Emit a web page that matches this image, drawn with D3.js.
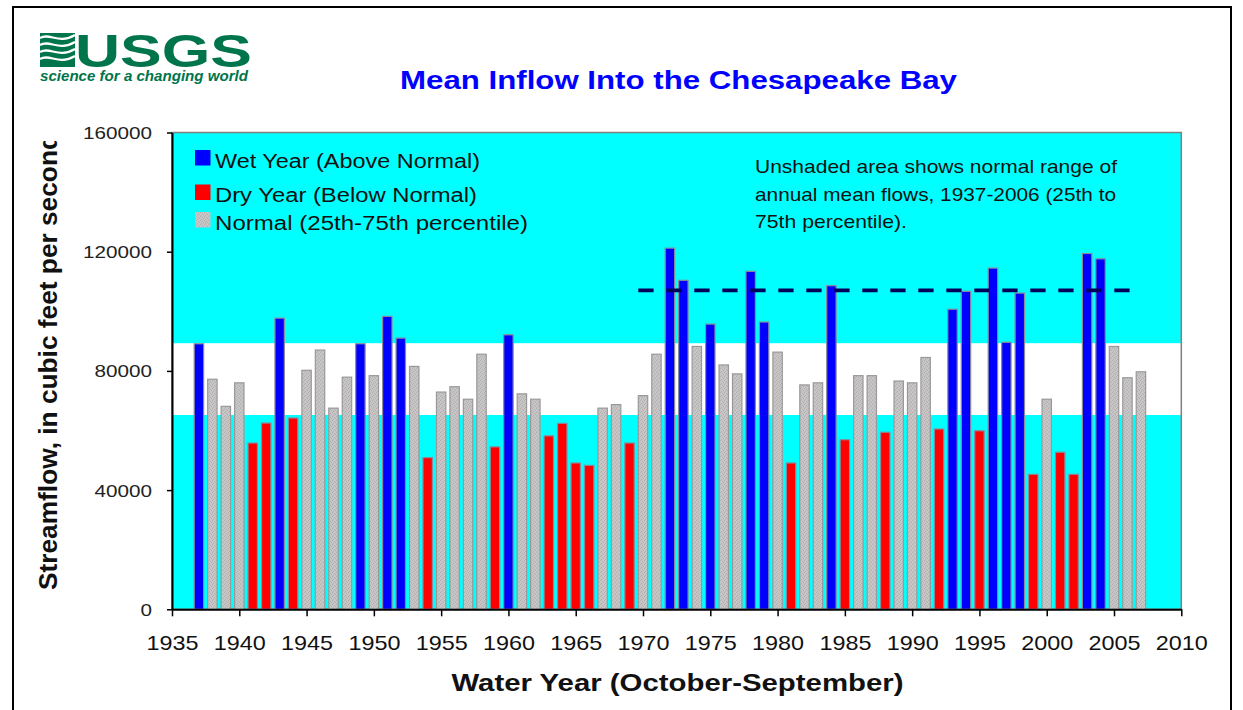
<!DOCTYPE html>
<html><head><meta charset="utf-8">
<script src="https://cdn.jsdelivr.net/npm/d3@7"></script>
<style>html,body{margin:0;padding:0;background:#fff;} svg{display:block;}</style>
</head><body><svg id="chart" width="1243" height="710"></svg>
<script>
// ---------------- DATA ----------------
const years = [1937,1938,1939,1940,1941,1942,1943,1944,1945,1946,1947,1948,1949,1950,
  1951,1952,1953,1954,1955,1956,1957,1958,1959,1960,1961,1962,1963,1964,1965,1966,1967,
  1968,1969,1970,1971,1972,1973,1974,1975,1976,1977,1978,1979,1980,1981,1982,1983,1984,
  1985,1986,1987,1988,1989,1990,1991,1992,1993,1994,1995,1996,1997,1998,1999,2000,2001,
  2002,2003,2004,2005,2006,2007];
const flows = [89100,77200,68100,76000,55800,62500,97700,64200,80200,87000,67500,77900,89100,78400,
  98300,91000,81500,50900,72900,74700,70500,85600,54500,92100,72300,70500,58200,62400,49100,48300,67500,
  68700,55800,71700,85600,121200,110400,88200,95700,82000,79000,113400,96400,86300,49100,75300,76000,108600,
  56900,78400,78400,59400,76600,76000,84500,60500,100700,106700,59900,114500,89600,106100,45300,70500,52700,
  45300,119400,117600,88200,77700,79700];
// W = wet (above normal), D = dry (below normal), N = normal
const yearClass = ["W","N","N","N","D","D","W","D","N","N","N","N","W","N",
  "W","W","N","D","N","N","N","N","D","W","N","N","D","D","D","D","N",
  "N","D","N","N","W","W","N","W","N","N","W","W","N","D","N","N","W",
  "D","N","N","D","N","N","N","D","W","W","D","W","W","W","D","N","D",
  "D","W","W","N","N","N"];
const normalRange = [65200, 89300];          // 25th and 75th percentile
const dashedLineYears = [1969.65, 2006.2];
const dashedLineValue = 107000;
const yTicks = [0, 40000, 80000, 120000, 160000];
const xTicks = [1935,1940,1945,1950,1955,1960,1965,1970,1975,1980,1985,1990,1995,2000,2005,2010];
const titleText = "Mean Inflow Into the Chesapeake Bay";
const xTitleText = "Water Year (October-September)";
const yTitleText = "Streamflow, in cubic feet per second";
const legendKeys = ["W","D","N"];
const legendLabels = ["Wet Year (Above Normal)", "Dry Year (Below Normal)", "Normal (25th-75th percentile)"];
const noteLines = ["Unshaded area shows normal range of", "annual mean flows, 1937-2006 (25th to", "75th percentile)."];
const logoWord = "USGS";
const logoTagline = "science for a changing world";

// ---------------- SETUP ----------------
const FONT = "'Liberation Sans', Arial, sans-serif";
const svg = d3.select("#chart");
const defs = svg.append("defs");
const pat = defs.append("pattern").attr("id","stip").attr("width",4).attr("height",4)
  .attr("patternUnits","userSpaceOnUse");
pat.append("rect").attr("width",4).attr("height",4).attr("fill","#c6c6c6");
[[0,0],[2,1],[1,3],[3,2]].forEach(p=>pat.append("rect").attr("x",p[0]).attr("y",p[1])
  .attr("width",1).attr("height",1).attr("fill","#b5adad"));
defs.append("clipPath").attr("id","ytclip").append("rect")
  .attr("x",0).attr("y",141).attr("width",120).attr("height",560);

const fillFor = {W:"#0000ff", D:"#ff0000", N:"url(#stip)"};

const x = d3.scaleLinear().domain([1935, 2010]).range([172, 1181.3]);
const y = d3.scaleLinear().domain([0, 160000]).range([609.3, 132.5]);

// outer frame
svg.append("path").attr("d","M13,712 L13,7 L1231,7 L1231,712")
  .attr("fill","none").attr("stroke","#000").attr("stroke-width",2);

// ---------------- LOGO ----------------
const logo = svg.append("g");
logo.append("rect").attr("x",40).attr("y",33).attr("width",35).attr("height",34).attr("fill","#00744a");
[38,45,52,59].forEach((yy,i)=>{
  logo.append("path")
    .attr("d",`M40,${yy} C50,${yy-6} 58,${yy+7} 75,${yy-3}`)
    .attr("fill","none").attr("stroke","#fff").attr("stroke-width",2.2);
});
logo.append("text").attr("x",75).attr("y",66.5).text(logoWord)
  .attr("font-family",FONT).attr("font-weight","bold").attr("font-size",46)
  .attr("textLength",177).attr("lengthAdjust","spacingAndGlyphs").attr("fill","#00744a");
logo.append("text").attr("x",40).attr("y",80.5).text(logoTagline)
  .attr("font-family",FONT).attr("font-weight","bold").attr("font-style","italic").attr("font-size",14)
  .attr("textLength",208).attr("lengthAdjust","spacingAndGlyphs").attr("fill","#00744a");

// ---------------- TITLE ----------------
svg.append("text").attr("x",678.5).attr("y",89).attr("text-anchor","middle").text(titleText)
  .attr("font-family",FONT).attr("font-weight","bold").attr("font-size",26).attr("fill","#0000ff")
  .attr("textLength",557).attr("lengthAdjust","spacingAndGlyphs");

// ---------------- PLOT AREA ----------------
const [x0, x1] = x.range();
const [yb, yt] = y.range();
svg.append("rect").attr("x",x0).attr("y",yt).attr("width",x1-x0).attr("height",yb-yt).attr("fill","#00ffff");
svg.append("rect").attr("x",x0).attr("y",y(normalRange[1])).attr("width",x1-x0)
  .attr("height",y(normalRange[0])-y(normalRange[1])).attr("fill","#ffffff");
svg.append("rect").attr("x",x0).attr("y",yt).attr("width",x1-x0).attr("height",yb-yt)
  .attr("fill","none").attr("stroke","#808080").attr("stroke-width",1.5);

// bars
const barW = 9.4;
const rows = years.map((yr,i)=>({year:yr, value:flows[i], cls:yearClass[i]}));
svg.append("g").selectAll("rect").data(rows).join("rect")
  .attr("x", d=>x(d.year)-barW/2).attr("width",barW)
  .attr("y", d=>y(d.value)).attr("height", d=>y(0)-y(d.value))
  .attr("fill", d=>fillFor[d.cls])
  .attr("stroke", d=>d.cls==="N" ? "#999999" : "#8a8a9a").attr("stroke-width",1.2);

// dashed line
svg.append("line")
  .attr("x1",x(dashedLineYears[0])).attr("x2",x(dashedLineYears[1]))
  .attr("y1",y(dashedLineValue)).attr("y2",y(dashedLineValue))
  .attr("stroke","#00005a").attr("stroke-width",3.7).attr("stroke-dasharray","15.3,12.7");

// ---------------- AXES ----------------
const yAxis = svg.append("g").attr("transform",`translate(${x0},0)`)
  .call(d3.axisLeft(y).tickValues(yTicks).tickSize(5).tickSizeOuter(0).tickPadding(15).tickFormat(d3.format("d")));
yAxis.select(".domain").attr("stroke","#000").attr("stroke-width",2);
yAxis.selectAll(".tick line").attr("stroke","#000").attr("stroke-width",1.5);
yAxis.selectAll(".tick text").attr("font-family",FONT).attr("font-size",17).attr("fill","#222")
  .attr("dy","0.35em")
  .attr("textLength", d=>String(d).length*11.5).attr("lengthAdjust","spacingAndGlyphs");

const xAxis = svg.append("g").attr("transform",`translate(0,${yb})`)
  .call(d3.axisBottom(x).tickValues(xTicks).tickSize(7).tickSizeOuter(0).tickFormat(d3.format("d")));
xAxis.select(".domain").attr("stroke","#000").attr("stroke-width",2);
xAxis.selectAll(".tick line").attr("stroke","#000").attr("stroke-width",1.5);
xAxis.selectAll(".tick text").attr("font-family",FONT).attr("font-size",21).attr("fill","#111")
  .attr("y",40.7).attr("dy",0)
  .attr("textLength",52).attr("lengthAdjust","spacingAndGlyphs");

// axis titles
svg.append("text").attr("x",677.5).attr("y",690.7).attr("text-anchor","middle").text(xTitleText)
  .attr("font-family",FONT).attr("font-weight","bold").attr("font-size",23).attr("fill","#111")
  .attr("textLength",452).attr("lengthAdjust","spacingAndGlyphs");
svg.append("g").attr("clip-path","url(#ytclip)")
  .append("text").attr("transform","translate(56.5,590) rotate(-90)").text(yTitleText)
  .attr("font-family",FONT).attr("font-weight","bold").attr("font-size",25).attr("fill","#111")
  .attr("textLength",456).attr("lengthAdjust","spacingAndGlyphs");

// ---------------- LEGEND ----------------
const legTop = [150, 184.5, 212];
const legBase = [168.3, 202.3, 230];
const legLen = [265, 262, 313];
const leg = svg.append("g");
legendKeys.forEach((k,i)=>{
  leg.append("rect").attr("x",195).attr("y",legTop[i]).attr("width",15.5).attr("height",15.5)
    .attr("fill",fillFor[k]);
  leg.append("text").attr("x",215).attr("y",legBase[i]).text(legendLabels[i])
    .attr("font-family",FONT).attr("font-size",20).attr("fill","#111")
    .attr("textLength",legLen[i]).attr("lengthAdjust","spacingAndGlyphs");
});

// ---------------- NOTE ----------------
const noteBase = [173.3, 200.8, 227.6];
const noteLen = [362, 361, 152];
noteLines.forEach((t,i)=>{
  svg.append("text").attr("x",755).attr("y",noteBase[i]).text(t)
    .attr("font-family",FONT).attr("font-size",19).attr("fill","#111")
    .attr("textLength",noteLen[i]).attr("lengthAdjust","spacingAndGlyphs");
});
</script></body></html>
